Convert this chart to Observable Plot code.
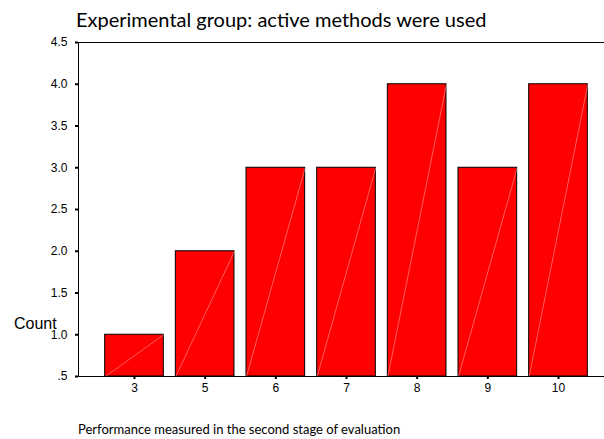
<!DOCTYPE html>
<html>
<head>
<meta charset="utf-8">
<script src="https://cdn.jsdelivr.net/npm/d3@7"></script>
<script src="https://cdn.jsdelivr.net/npm/@observablehq/plot@0.6"></script>
<style>
  html, body { margin: 0; padding: 0; background: #fff; }
  #wrap { position: relative; width: 604px; height: 439px; }
  #title { position: absolute; left: 76px; top: 7px; font-family: Lato, "Open Sans", sans-serif; font-size: 20px; color: #000; white-space: nowrap; line-height: 24px; }
  #ylab { position: absolute; left: 14px; top: 315px; font-family: "Liberation Sans", Arial, sans-serif; font-size: 16px; line-height: 18px; color: #000; }
  #xlab { position: absolute; left: 78px; top: 421px; font-family: Lato, "Open Sans", sans-serif; font-size: 13px; line-height: 16px; color: #000; white-space: nowrap; }
  #chart { position: absolute; left: 0; top: 0; }
</style>
</head>
<body>
<div id="wrap">
  <div id="chart"></div>
  <div id="title">Experimental group: active methods were used</div>
  <div id="ylab">Count</div>
  <div id="xlab">Performance measured in the second stage of evaluation</div>
</div>
<script>
const categories = ["3", "5", "6", "7", "8", "9", "10"];
const counts = [1, 2, 3, 3, 4, 3, 4];
const yTicks = [0.5, 1.0, 1.5, 2.0, 2.5, 3.0, 3.5, 4.0, 4.5];

const data = categories.map((c, i) => ({ i, label: c, count: counts[i] }));
const half = 0.415;
const base = 0.5;

const chart = Plot.plot({
  width: 604,
  height: 439,
  marginLeft: 78,
  marginRight: 0,
  marginTop: 42,
  marginBottom: 63,
  style: { fontFamily: "Liberation Sans, Arial, sans-serif", fontSize: "12px", color: "#000", background: "#fff" },
  x: { domain: [-0.7924, 6.651], axis: null },
  y: { domain: [0.5, 4.5], axis: null },
  marks: [
    Plot.rectY(data, { x1: d => d.i - half, x2: d => d.i + half, y1: base, y2: "count", fill: "#ff0000", stroke: "#000", strokeWidth: 1 }),
    Plot.link(data, { x1: d => d.i - half, y1: base, x2: d => d.i + half, y2: "count", stroke: "#ff9a9a", strokeWidth: 0.6 }),
    Plot.frame({ anchor: "left", stroke: "#000" }),
    Plot.frame({ anchor: "top", stroke: "#000" }),
    Plot.frame({ anchor: "bottom", stroke: "#000" }),
    Plot.axisY({ ticks: yTicks, tickSize: 3, tickPadding: 8, strokeWidth: 2, tickFormat: d => d === 0.5 ? ".5" : d.toFixed(1), label: null }),
    Plot.axisX({ ticks: data.map(d => d.i), tickSize: 3, tickPadding: 4, strokeWidth: 2, tickFormat: i => categories[i], label: null })
  ]
});
document.getElementById("chart").appendChild(chart);
</script>
</body>
</html>
